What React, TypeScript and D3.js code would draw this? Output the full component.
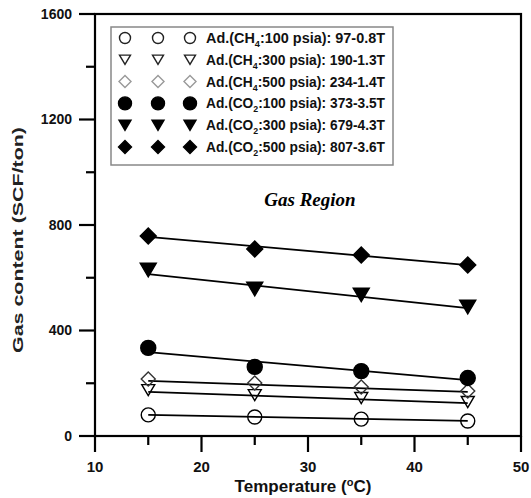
import React from "react";
import * as d3 from "d3";

const temps = [15, 25, 35, 45];
const ch4_100 = [80, 72, 64, 57];
const ch4_300 = [174, 155, 144, 129];
const ch4_500 = [216, 201, 186, 171];
const co2_100 = [334, 262, 246, 220];
const co2_300 = [629, 557, 535, 489];
const co2_500 = [758, 709, 686, 648];

const fitX = [15, 45];
const fit_ch4_100 = [80, 57];
const fit_ch4_300 = [167, 125];
const fit_ch4_500 = [209, 167];
const fit_co2_100 = [318, 212];
const fit_co2_300 = [614, 485];
const fit_co2_500 = [755, 648];

const gasLabels = ["CH", "CH", "CH", "CO", "CO", "CO"];
const gasSubs = ["4", "4", "4", "2", "2", "2"];
const pressures = ["100", "300", "500", "100", "300", "500"];
const equations = ["97-0.8T", "190-1.3T", "234-1.4T", "373-3.5T", "679-4.3T", "807-3.6T"];

const xTicks = [10, 20, 30, 40, 50];
const xMinor = [15, 25, 35, 45];
const yTicks = [0, 400, 800, 1200, 1600];
const yMinor = [200, 600, 1000, 1400];

type Shape = "circle" | "triangle" | "diamond";
const series = [
  { vals: ch4_100, fit: fit_ch4_100, shape: "circle" as Shape, filled: false },
  { vals: ch4_300, fit: fit_ch4_300, shape: "triangle" as Shape, filled: false },
  { vals: ch4_500, fit: fit_ch4_500, shape: "diamond" as Shape, filled: false },
  { vals: co2_100, fit: fit_co2_100, shape: "circle" as Shape, filled: true },
  { vals: co2_300, fit: fit_co2_300, shape: "triangle" as Shape, filled: true },
  { vals: co2_500, fit: fit_co2_500, shape: "diamond" as Shape, filled: true },
];

const L = 95, R = 521, T = 14, B = 436;
const x = d3.scaleLinear().domain([10, 50]).range([L, R]);
const y = d3.scaleLinear().domain([0, 1600]).range([B, T]);

function Marker({ cx, cy, shape, filled, s, color }: { cx: number; cy: number; shape: Shape; filled: boolean; s: number; color: string }) {
  const fill = filled ? "#000" : "none";
  const stroke = filled ? "#000" : color;
  const sw = 1.4;
  if (shape === "circle") {
    return <circle cx={cx} cy={cy} r={s} fill={fill} stroke={stroke} strokeWidth={sw} />;
  }
  if (shape === "triangle") {
    const w = s * 2;
    const h = w * 0.85;
    const p = `M${cx - w / 2},${cy - h / 2}L${cx + w / 2},${cy - h / 2}L${cx},${cy + h / 2}Z`;
    return <path d={p} fill={fill} stroke={stroke} strokeWidth={sw} strokeLinejoin="miter" />;
  }
  const p = `M${cx},${cy - s}L${cx + s},${cy}L${cx},${cy + s}L${cx - s},${cy}Z`;
  return <path d={p} fill={fill} stroke={stroke} strokeWidth={sw} />;
}

const plotSize = (shape: Shape, filled: boolean) =>
  shape === "circle" ? (filled ? 7.5 : 7) : shape === "triangle" ? (filled ? 8 : 6.5) : filled ? 8 : 7;
const legSize = (shape: Shape, filled: boolean) =>
  shape === "circle" ? (filled ? 6.5 : 5.5) : shape === "triangle" ? (filled ? 6 : 5.5) : filled ? 6.5 : 6;

export default function App() {
  const line = d3
    .line<[number, number]>()
    .x((d) => x(d[0]))
    .y((d) => y(d[1]));
  const sans = "'Liberation Sans', Arial, sans-serif";
  const legX = [125, 158, 190];
  const legRow0 = 38;
  const legStep = 21.8;
  return (
    <svg width={531} height={498} style={{ position: "absolute", left: 0, top: 0, background: "#fff" }} fontFamily={sans}>
      <rect x={0} y={0} width={531} height={498} fill="#fff" />
      {series.map((s, i) => (
        <path
          key={"l" + i}
          d={line(fitX.map((t, j) => [t, s.fit[j]] as [number, number])) || ""}
          fill="none"
          stroke="#000"
          strokeWidth={1.8}
        />
      ))}
      {series.map((s, i) =>
        temps.map((t, j) => (
          <Marker
            key={"m" + i + "-" + j}
            cx={x(t)}
            cy={y(s.vals[j])}
            shape={s.shape}
            filled={s.filled}
            s={plotSize(s.shape, s.filled)}
            color={s.shape === "diamond" ? "#333" : "#000"}
          />
        ))
      )}
      <rect x={L} y={T} width={R - L} height={B - T} fill="none" stroke="#000" strokeWidth={2.2} />
      {xTicks.map((t) => (
        <g key={"xt" + t}>
          <line x1={x(t)} x2={x(t)} y1={B} y2={B + 16} stroke="#000" strokeWidth={2.2} />
          <text x={x(t)} y={472} textAnchor="middle" fontSize={15} fontWeight="bold" fill="#111">
            {t}
          </text>
        </g>
      ))}
      {xMinor.map((t) => (
        <line key={"xm" + t} x1={x(t)} x2={x(t)} y1={B} y2={B + 9} stroke="#000" strokeWidth={2.2} />
      ))}
      {yTicks.map((t) => (
        <g key={"yt" + t}>
          <line x1={L - 16} x2={L} y1={y(t)} y2={y(t)} stroke="#000" strokeWidth={2.2} />
          <text x={72} y={y(t)} dy="0.35em" textAnchor="end" fontSize={14} fontWeight="bold" fill="#111">
            {t}
          </text>
        </g>
      ))}
      {yMinor.map((t) => (
        <line key={"ym" + t} x1={L - 9} x2={L} y1={y(t)} y2={y(t)} stroke="#000" strokeWidth={2.2} />
      ))}
      <text x={303} y={492} textAnchor="middle" fontSize={17} fontWeight="bold" fill="#111">
        Temperature (<tspan fontSize={11} dy={-6}>o</tspan>
        <tspan dy={6}>C)</tspan>
      </text>
      <text
        transform="translate(23,240) rotate(-90)"
        textAnchor="middle"
        fontSize={15.5}
        fontWeight="bold"
        fill="#222"
        textLength={226}
        lengthAdjust="spacingAndGlyphs"
      >
        Gas content (SCF/ton)
      </text>
      <text x={310} y={206} textAnchor="middle" fontFamily="'Liberation Serif', 'Times New Roman', serif" fontStyle="italic" fontWeight="bold" fontSize={19}>
        Gas Region
      </text>
      <rect x={111} y={27} width={282} height={138} fill="#fff" stroke="#888" strokeWidth={1.5} />
      {series.map((s, i) => {
        const cy = legRow0 + i * legStep;
        return (
          <g key={"lg" + i}>
            {legX.map((lx, k) => (
              <Marker
                key={k}
                cx={lx}
                cy={cy}
                shape={s.shape}
                filled={s.filled}
                s={legSize(s.shape, s.filled)}
                color={s.shape === "diamond" ? "#999" : "#222"}
              />
            ))}
            <text x={206} y={cy} dy="0.36em" fontSize={14} fontWeight="bold" fill="#111" textLength={179} lengthAdjust="spacingAndGlyphs">
              Ad.({gasLabels[i]}
              <tspan fontSize={9} dy={4}>
                {gasSubs[i]}
              </tspan>
              <tspan dy={-4}>:{pressures[i]} psia): {equations[i]}</tspan>
            </text>
          </g>
        );
      })}
    </svg>
  );
}
